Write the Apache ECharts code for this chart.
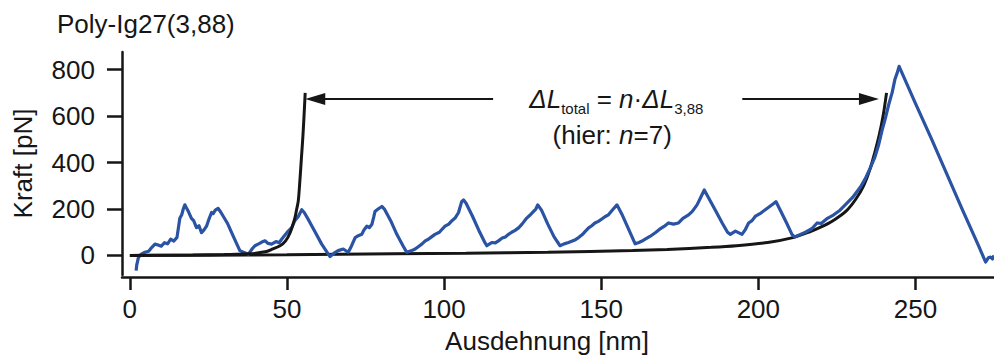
<!DOCTYPE html>
<html><head><meta charset="utf-8">
<script src="https://cdn.jsdelivr.net/npm/echarts@6/dist/echarts.min.js"></script>
<style>html,body{margin:0;padding:0;background:#fff}#c{width:994px;height:359px}</style>
</head><body><div id="c"></div>
<script>
// ---- texts ----
const chartTitle = 'Poly-Ig27(3,88)';
const xAxisName = 'Ausdehnung [nm]';
const yAxisName = 'Kraft [pN]';
// ---- tick labels ----
const xTicks = [0, 50, 100, 150, 200, 250];
const yTicks = [0, 200, 400, 600, 800];
// ---- measured force trace [extension nm, force pN] ----
const trace = [
 [2.0,-65],[2.2,-40],[2.7,-10],[3.5,5],[4.8,14],[6,18],[7,35],[8,49],[9,45],[10,40],[11,55],[12,50],[13,70],[14,62],[15,78],
 [15.9,160],[16.5,175],[17.0,200],[17.5,218],[18,205],[18.6,190],[19.6,160],[20.3,150],[21.2,120],[22,128],[22.8,98],[23.6,110],
 [24.4,126],[25,150],[25.5,168],[26,185],[26.5,180],[27.2,195],[28.1,203],[29,185],[31,140],[33,80],[35,21],[36.5,12],[37.7,5],
 [39,30],[39.8,42],[41,50],[42,58],[43,63],[44,52],[45.1,49],[46.5,60],[47.5,55],[48.3,70],[49.5,90],[50.4,105],[51.5,120],
 [52.5,150],[53.6,168],[54.7,197],[55.5,185],[57,150],[59,100],[61,50],[63.2,5],[63.7,-5],[65,10],[66.3,21],[67.9,28],[69.5,14],
 [70.5,40],[71.7,77],[72.7,85],[73.8,91],[74.5,110],[75.4,126],[76.2,120],[77,133],[77.6,165],[78,189],[79,200],[80.2,211],
 [81,200],[83,150],[85,90],[87,40],[88.1,14],[89.5,20],[90.8,28],[92,40],[93,50],[94,63],[95,70],[96,80],[97.1,91],[98.5,100],
 [99.5,115],[100.3,126],[101.5,135],[102.5,150],[103.5,161],[104.6,185],[105.6,232],[106.2,239],[107,225],[109,170],[111,110],
 [113,55],[113.6,42],[114.5,50],[115.2,56],[116.3,54],[117.3,63],[118.5,75],[119.5,80],[120.5,91],[121.5,100],[122.6,108],
 [123.7,119],[124.8,135],[126.3,161],[127.2,172],[128.4,189],[129.2,200],[129.8,218],[131,195],[133,135],[135,80],[136.9,42],
 [138.2,50],[139.6,56],[140.8,62],[141.8,68],[142.8,77],[144,90],[145,105],[146,119],[147,128],[148,140],[149.1,147],[150.3,158],
 [151.3,168],[152.3,175],[153.5,195],[155,218],[156.5,180],[158.5,120],[160.8,50],[162,56],[163,62],[164,70],[165.5,82],[167.2,98],
 [168.5,112],[170,125],[171.4,140],[173,135],[174.6,140],[176,160],[177.8,175],[179,190],[180.5,218],[181.5,245],[182.8,282],
 [184.5,240],[186.5,190],[188.5,140],[190.2,100],[191.1,91],[192.7,105],[194.8,91],[195.8,110],[196.9,140],[198,150],[199,168],
 [200.5,180],[202.2,197],[203.5,210],[205,225],[205.6,232],[207,195],[209,140],[210.7,91],[211.5,80],[213.4,91],[215,100],
 [217,115],[218.7,140],[220,138],[222,160],[224,175],[226,195],[228.2,225],[230,250],[232.5,295],[234,330],[235.7,379],[237,420],
 [238.3,477],[239.4,540],[240.4,589],[241.5,650],[242.6,702],[243.5,760],[244.2,786],[244.8,814],[250,655],[255,505],[260,350],
 [265,195],[270,45],[272.3,-28],[273.2,-10],[273.9,-7],[274.5,-15],[275,0]
];
// ---- fitted curves ----
const fitShort = [
 [0,0],[10,1],[20,2],[30,4],[38,7],[43.5,17],[45,25],[47.8,42],[49.5,62],[51,98],[52.5,161],[53.1,200],[53.6,235],
 [54.1,320],[54.6,420],[55.1,520],[55.5,620],[55.8,700]
];
const fitLong = [
 [0,0],[25,1],[50,3],[84,8],[107,10],[133,14],[160,21],[171,26],[185,35],[193,42],[203,56],[211,77],[216,100],[220,123],
 [224,152],[228,192],[231,242],[233.5,300],[235.5,370],[237,440],[238.5,520],[239.7,600],[240.8,700]
];
// ---- annotation anchors (data coordinates) ----
const arrowLeft = [[115.6, 674], [59.0, 674]];
const arrowRight = [[194.9, 674], [235.2, 674]];
const formulaAt = [154.8, 657];
const noteAt = [153.5, 518];

const FONT = '"Liberation Sans", Arial, Helvetica, sans-serif';
const INK = '#161616';
const BLUE = '#2a53a3';

const chart = echarts.init(document.getElementById('c'), null, {renderer: 'svg'});
const txt = (size, extra) => Object.assign({fontFamily: FONT, fontSize: size, color: INK, fontWeight: 'normal'}, extra || {});
const arrowEnd = (from, to) => [
  {coord: from, symbol: 'none'},
  {coord: to, symbol: 'triangle', symbolSize: [12, 20]}
];

chart.setOption({
  animation: false,
  backgroundColor: '#fff',
  title: {text: chartTitle, left: 52, top: 6, textStyle: txt(26)},
  grid: {left: 122, right: 0, top: 52, bottom: 79},
  xAxis: {
    type: 'value', min: -2.5, max: 275, offset: 2,
    name: xAxisName, nameLocation: 'middle', nameGap: 51,
    nameTextStyle: txt(26, {padding: [0, 22, 0, 0]}),
    axisLine: {show: true, onZero: false, lineStyle: {color: INK, width: 2.5}},
    axisTick: {show: true, customValues: xTicks, length: 13, lineStyle: {color: INK, width: 2.5}},
    axisLabel: Object.assign(txt(26), {customValues: xTicks, margin: 19}),
    splitLine: {show: false}
  },
  yAxis: {
    type: 'value', min: -84, max: 876,
    name: yAxisName, nameLocation: 'middle', nameGap: 86, nameRotate: 90,
    nameTextStyle: txt(26),
    axisLine: {show: true, onZero: false, lineStyle: {color: INK, width: 2.5}},
    axisTick: {show: true, customValues: yTicks, length: 15, lineStyle: {color: INK, width: 2.5}},
    axisLabel: Object.assign(txt(26), {customValues: yTicks, margin: 27}),
    splitLine: {show: false}
  },
  series: [
    {
      name: 'WLC lang', type: 'line', data: fitLong, showSymbol: false, smooth: 0.3, z: 2,
      lineStyle: {color: INK, width: 3},
      markLine: {
        silent: true, symbol: ['none', 'triangle'], symbolSize: 16,
        lineStyle: {color: INK, width: 2, type: 'solid'}, label: {show: false},
        data: [arrowEnd(arrowLeft[0], arrowLeft[1]), arrowEnd(arrowRight[0], arrowRight[1])]
      },
      markPoint: {
        silent: true, symbol: 'circle', symbolSize: 0,
        data: [
          {coord: formulaAt, label: {show: true, position: 'inside',
            formatter: '{it|ΔL}{sub|total}{n| = }{it|n}{n|·}{it|ΔL}{sub|3,88}',
            rich: {
              it: txt(26, {fontStyle: 'italic', lineHeight: 26, padding: [0, 0, 8, 0]}),
              n: txt(26, {lineHeight: 26, padding: [0, 0, 8, 0]}),
              sub: txt(15, {lineHeight: 15, verticalAlign: 'bottom'})
            }}},
          {coord: noteAt, label: {show: true, position: 'inside',
            formatter: '{n|(hier: }{it|n}{n|=7)}',
            rich: {
              it: txt(26, {fontStyle: 'italic'}),
              n: txt(26)
            }}}
        ]
      }
    },
    {
      name: 'Messung', type: 'line', data: trace, showSymbol: false, z: 3,
      lineStyle: {color: BLUE, width: 3.2, join: 'round'}
    },
    {
      name: 'WLC kurz', type: 'line', data: fitShort, showSymbol: false, smooth: 0.3, z: 4,
      lineStyle: {color: INK, width: 3}
    }
  ]
});
</script>
</body></html>
